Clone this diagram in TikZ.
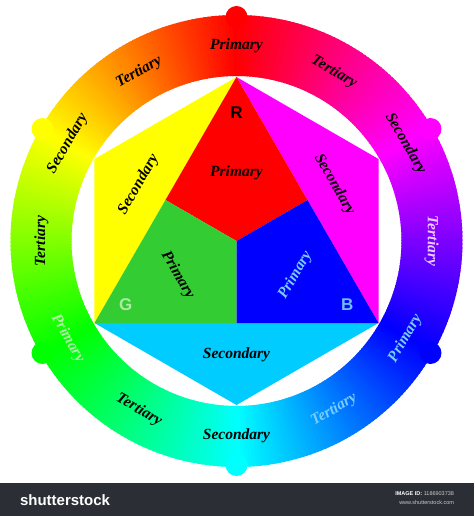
\documentclass[tikz,border=0pt]{standalone}
\usepackage{fontspec}
\setmainfont{Liberation Serif}
\setsansfont{Liberation Sans}
\usepackage{tikz}

\definecolor{hexred}{RGB}{255,0,0}
\definecolor{hexyellow}{RGB}{255,255,0}
\definecolor{hexmagenta}{RGB}{255,0,255}
\definecolor{hexblue}{RGB}{0,0,255}
\definecolor{kitegreen}{RGB}{51,204,51}
\definecolor{skycyan}{RGB}{0,204,255}
\definecolor{paleblue}{RGB}{120,205,255}
\definecolor{palegreen}{RGB}{175,240,165}
\definecolor{lilac}{RGB}{235,205,255}
\definecolor{lettergreen}{RGB}{170,235,160}
\definecolor{letterblue}{RGB}{110,190,255}
\definecolor{barcolor}{RGB}{43,46,53}

\begin{document}
\begin{tikzpicture}[x=1pt,y=1pt,
  wheel/.style={font=\fontsize{15.5}{18}\selectfont\bfseries\itshape},
  letter/.style={font=\fontsize{17}{20}\selectfont\sffamily\bfseries}]

\useasboundingbox (-236.5,-275) rectangle (237.5,241);
\fill[white] (-236.5,-275) rectangle (237.5,241);

% colour ring
\foreach \a in {0,1,...,359}{
  \pgfmathsetmacro\h{mod(\a+270,360)}
  \definecolor{seg}{Hsb}{\h,1,1}
  \fill[seg] (\a:165) arc[start angle=\a,end angle=\a+1.5,radius=165]
    -- (\a+1.5:226) arc[start angle=\a+1.5,end angle=\a,radius=226] -- cycle;
}
\foreach \a/\h in {90/0,30/300,-30/240,-90/180,-150/120,150/60}{
  \definecolor{seg}{Hsb}{\h,1,1}
  \fill[seg] (\a:224) circle[radius=11];
}

% hexagon
\coordinate (R) at (90:164);
\coordinate (M) at (30:164);
\coordinate (B) at (-30:164);
\coordinate (C) at (-90:164);
\coordinate (G) at (-150:164);
\coordinate (Y) at (150:164);
\coordinate (O) at (0,0);
\coordinate (rg) at (150:82);
\coordinate (rb) at (30:82);
\coordinate (gb) at (-90:82);

\fill[hexyellow] (R) -- (Y) -- (G) -- cycle;
\fill[hexmagenta] (R) -- (M) -- (B) -- cycle;
\fill[skycyan] (G) -- (C) -- (B) -- cycle;
\fill[hexred] (R) -- (rg) -- (O) -- (rb) -- cycle;
\fill[kitegreen] (G) -- (gb) -- (O) -- (rg) -- cycle;
\fill[hexblue] (B) -- (rb) -- (O) -- (gb) -- cycle;

% ring labels
\foreach \a/\t/\c [count=\i] in {90/Primary/black, 60/Tertiary/black,
    30/Secondary/black, 0/Tertiary/lilac, -30/Primary/paleblue,
    -60/Tertiary/paleblue, -90/Secondary/black, -120/Tertiary/black,
    -150/Primary/palegreen, 180/Tertiary/black, 150/Secondary/black,
    120/Tertiary/black}{
  \pgfmathsetmacro\r{\a>=0 ? \a-90 : \a+90}
  \node[wheel,text=\c,rotate=\r] (ring\i) at (\a:195) {\t};
}

% inner labels
\node[wheel] (pr) at (90:68) {Primary};
\node[wheel,rotate=-60] (pg) at (210:68) {Primary};
\node[wheel,text=paleblue,rotate=60] (pb) at (330:68) {Primary};
\node[wheel,rotate=60] (sy) at (150:113) {Secondary};
\node[wheel,rotate=-60] (sm) at (30:113) {Secondary};
\node[wheel] (sc) at (270:114) {Secondary};
\node[letter] (lr) at (90:128) {R};
\node[letter,text=lettergreen] (lg) at (210:128) {G};
\node[letter,text=letterblue] (lb) at (330:128) {B};

% footer bar
\fill[barcolor] (-236.5,-242) rectangle (237.5,-275);
\node[anchor=west,text=white,font=\fontsize{15}{18}\selectfont\sffamily\bfseries]
  (logo) at (-220,-259) {shutterstock};
\node[anchor=east,align=right,text=white!75!barcolor,font=\fontsize{5.5}{9}\selectfont\sffamily]
  (imgid) at (221,-257.5) {\textcolor{white}{\bfseries IMAGE ID:} 1186903738\\ www.shutterstock.com};
\end{tikzpicture}
\end{document}
